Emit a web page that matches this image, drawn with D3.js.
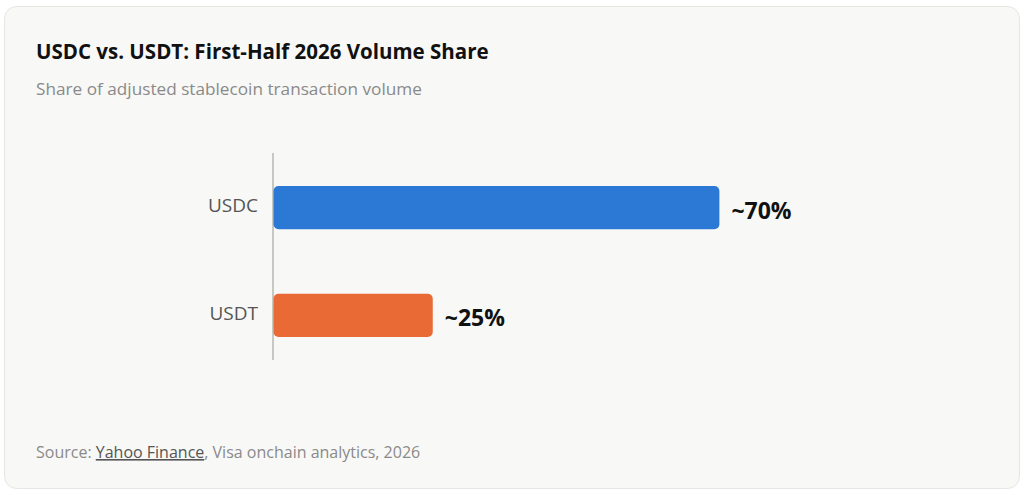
<!DOCTYPE html>
<html><head><meta charset="utf-8">
<script src="https://cdn.jsdelivr.net/npm/d3@7"></script>
<style>
html,body{margin:0;padding:0;background:#fff;}
svg{display:block;font-family:"Open Sans","Noto Sans",sans-serif;}
</style></head>
<body><svg id="c" width="1024" height="495"></svg>
<script>
const categories = ["USDC", "USDT"];
const values = [70, 25];
const valueLabels = ["~70%", "~25%"];
const colors = ["#2b78d5", "#ea6a36"];

const svg = d3.select("#c");
svg.append("rect").attr("x",4.5).attr("y",6.5).attr("width",1015).attr("height",482)
  .attr("rx",12).attr("fill","#f8f8f6").attr("stroke","#e6e6e3");

svg.append("text").attr("x",36).attr("y",59).text("USDC vs. USDT: First-Half 2026 Volume Share")
  .attr("font-size",20.5).attr("font-weight",700).attr("fill","#111");
svg.append("text").attr("x",36).attr("y",95).text("Share of adjusted stablecoin transaction volume")
  .attr("font-size",17.2).attr("fill","#8a8a8a");

const x = d3.scaleLinear().domain([0,100]).range([273.5, 910.5]);
const y = d3.scaleBand().domain(categories).range([186,337]).paddingInner(0.6).paddingOuter(0);

svg.append("line").attr("x1",273).attr("x2",273).attr("y1",153).attr("y2",360)
  .attr("stroke","#c8c8c2").attr("stroke-width",2);

const data = categories.map((c,i)=>({c, v:values[i], l:valueLabels[i], col:colors[i]}));

svg.selectAll("rect.bar").data(data).enter().append("rect").attr("class","bar")
  .attr("x", x(0)).attr("y", d=>y(d.c)).attr("width", d=>x(d.v)-x(0)).attr("height", y.bandwidth())
  .attr("rx",5).attr("fill", d=>d.col);

svg.selectAll("text.cat").data(data).enter().append("text").attr("class","cat")
  .attr("x",258).attr("y", d=>y(d.c)+y.bandwidth()/2-2).attr("dy","0.35em")
  .attr("text-anchor","end").attr("font-size",19).attr("fill","#555").text(d=>d.c);

svg.selectAll("text.val").data(data).enter().append("text").attr("class","val")
  .attr("x", d=>x(d.v)+12).attr("y", d=>y(d.c)+y.bandwidth()/2+3).attr("dy","0.35em")
  .attr("font-size",23).attr("font-weight",700).attr("fill","#111").text(d=>d.l);

const src = svg.append("text").attr("x",36).attr("y",458).attr("font-size",16).attr("fill","#8a8a8a");
src.append("tspan").text("Source: ");
src.append("tspan").text("Yahoo Finance").attr("fill","#555").attr("text-decoration","underline");
src.append("tspan").text(", Visa onchain analytics, 2026");
</script></body></html>
